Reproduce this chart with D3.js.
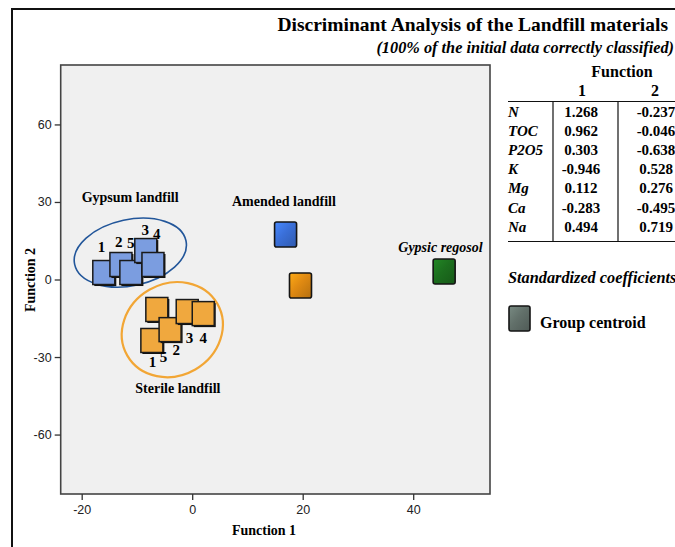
<!DOCTYPE html>
<html><head><meta charset="utf-8">
<script src="https://cdn.jsdelivr.net/npm/d3@7"></script>
<style>body{margin:0;background:#fff}svg{display:block}</style>
</head><body>
<svg id="c" width="675" height="547"></svg>
<script>
// ---- data ----
const xTicks = [-20, 0, 20, 40];
const yTicks = [60, 30, 0, -30, -60];

const gypsumX = [-16.0, -12.9, -11.1, -8.4, -7.1];
const gypsumY = [2.7, 5.8, 2.7, 11.2, 5.8];
const gypsumLabels = ["1", "2", "5", "3", "4"];
const gypsumLabelX = [-16.4, -13.3, -11.1, -8.5, -6.4];
const gypsumLabelY = [12.8, 14.7, 14.3, 19.4, 17.8];

const sterileX = [-7.3, -6.4, -4.0, -0.9, 2.0];
const sterileY = [-23.6, -11.6, -19.4, -12.4, -13.2];
const sterileLabels = ["1", "5", "2", "3", "4"];
const sterileLabelX = [-7.2, -5.2, -2.9, -0.5, 2.0];
const sterileLabelY = [-31.7, -29.8, -27.1, -22.5, -22.5];

const centroidNames = ["Amended gypsum", "Amended sterile", "Gypsic regosol"];
const centroidX = [16.9, 19.6, 45.6];
const centroidY = [17.4, -2.3, 3.1];

const groupNames = ["Gypsum landfill", "Amended landfill", "Gypsic regosol", "Sterile landfill"];
const groupLabelX = [-20.0, 7.2, 37.3, -10.3];
const groupLabelY = [29.8, 28.6, 10.5, -44.1];

const ellipseCX = [-11.2, -3.6];
const ellipseCY = [10.4, -19.4];
const ellipseRX = [10.3, 9.4];
const ellipseRY = [12.8, 17.8];

const variables = ["N", "TOC", "P2O5", "K", "Mg", "Ca", "Na"];
const coef1 = ["1.268", "0.962", "0.303", "-0.946", "0.112", "-0.283", "0.494"];
const coef2 = ["-0.237", "-0.046", "-0.638", "0.528", "0.276", "-0.495", "0.719"];

// ---- setup ----
const svg = d3.select("#c");
const serif = "'Liberation Serif','Times New Roman',serif";
const sans = "'Liberation Sans',Arial,sans-serif";
const L = 60.7, R = 490, T = 65, B = 494;
const x = d3.scaleLinear().domain([-23.8, 53.9]).range([L, R]);
const y = d3.scaleLinear().domain([-83, 83]).range([B, T]);

const defs = svg.append("defs");
function grad(id, c) {
  const g = defs.append("linearGradient").attr("id", id)
    .attr("x1", "0").attr("y1", "0").attr("x2", "1").attr("y2", "1");
  g.append("stop").attr("offset", "0%").attr("stop-color", d3.color(c).brighter(0.6));
  g.append("stop").attr("offset", "45%").attr("stop-color", c);
  g.append("stop").attr("offset", "100%").attr("stop-color", d3.color(c).darker(0.6));
}
grad("gBlue", "#3a6fd8");
grad("gOrange", "#e08a12");
grad("gGreen", "#1c6e1e");
grad("gGray", "#62706a");
const centroidFill = ["url(#gBlue)", "url(#gOrange)", "url(#gGreen)"];

// outer frame
svg.append("path").attr("d", `M12,547 L12,9 L675,9`)
  .attr("fill", "none").attr("stroke", "#111").attr("stroke-width", 2);

// title
svg.append("text").attr("x", 668).attr("y", 31).attr("text-anchor", "end")
  .attr("font-family", serif).attr("font-weight", "bold").attr("font-size", 19.5)
  .text("Discriminant Analysis of the Landfill materials");
svg.append("text").attr("x", 674).attr("y", 53).attr("text-anchor", "end")
  .attr("font-family", serif).attr("font-weight", "bold").attr("font-style", "italic").attr("font-size", 16.3)
  .text("(100% of the initial data correctly classified)");

// plot area
svg.append("rect").attr("x", L).attr("y", T).attr("width", R - L).attr("height", B - T)
  .attr("fill", "#f0f0f0").attr("stroke", "#444").attr("stroke-width", 1.6);

// axes
const xAxis = svg.append("g").attr("transform", `translate(0,${B})`)
  .call(d3.axisBottom(x).tickValues(xTicks).tickFormat(d => String(d)).tickSize(6).tickPadding(5).tickSizeOuter(0));
const yAxis = svg.append("g").attr("transform", `translate(${L},0)`)
  .call(d3.axisLeft(y).tickValues(yTicks).tickFormat(d => String(d)).tickSize(6).tickPadding(3).tickSizeOuter(0));
[xAxis, yAxis].forEach(a => {
  a.select(".domain").remove();
  a.selectAll("line").attr("stroke", "#333").attr("stroke-width", 1.3);
  a.selectAll("text").attr("font-family", sans).attr("font-size", 12.5).attr("fill", "#222");
});

svg.append("text").attr("x", 264).attr("y", 535).attr("text-anchor", "middle")
  .attr("font-family", serif).attr("font-weight", "bold").attr("font-size", 14).text("Function 1");
svg.append("text").attr("transform", "translate(35,280) rotate(-90)").attr("text-anchor", "middle")
  .attr("font-family", serif).attr("font-weight", "bold").attr("font-size", 14).text("Function 2");

// ellipses
const ellColors = ["#22569a", "#f2a635"];
ellipseCX.forEach((cx, i) => {
  const px = x(cx), py = y(ellipseCY[i]);
  const rx = x(cx + ellipseRX[i]) - px, ry = py - y(ellipseCY[i] + ellipseRY[i]);
  svg.append("ellipse").attr("cx", px).attr("cy", py).attr("rx", rx).attr("ry", ry)
    .attr("transform", `rotate(${i === 0 ? -12 : -30},${px},${py})`)
    .attr("fill", "none").attr("stroke", ellColors[i]).attr("stroke-width", i === 0 ? 1.6 : 2.2);
});

const SW = 22, SH = 24;
function memberSquares(xs, ys, fill) {
  const g = svg.append("g");
  xs.forEach((v, i) => {
    const px = x(v), py = y(ys[i]);
    g.append("rect").attr("x", px - SW / 2 + 1.5).attr("y", py - SH / 2 + 1.5)
      .attr("width", SW).attr("height", SH).attr("fill", "#111");
    g.append("rect").attr("x", px - SW / 2).attr("y", py - SH / 2)
      .attr("width", SW).attr("height", SH).attr("fill", fill)
      .attr("stroke", "#1a1a1a").attr("stroke-width", 1.5);
  });
}
memberSquares(gypsumX, gypsumY, "#7b9de0");
memberSquares(sterileX, sterileY, "#f0a83e");

// centroids
centroidX.forEach((v, i) => {
  const px = x(v), py = y(centroidY[i]);
  svg.append("rect").attr("x", px - 11).attr("y", py - 12.5).attr("width", 22).attr("height", 25)
    .attr("rx", 2).attr("fill", centroidFill[i]).attr("stroke", "#151515").attr("stroke-width", 1.6);
});

// point labels
function pointLabels(lx, ly, labels) {
  labels.forEach((t, i) => {
    svg.append("text").attr("x", x(lx[i])).attr("y", y(ly[i])).attr("dy", "0.35em")
      .attr("text-anchor", "middle").attr("font-family", serif).attr("font-weight", "bold")
      .attr("font-size", 15).text(t);
  });
}
pointLabels(gypsumLabelX, gypsumLabelY, gypsumLabels);
pointLabels(sterileLabelX, sterileLabelY, sterileLabels);

// group labels
groupNames.forEach((t, i) => {
  svg.append("text").attr("x", x(groupLabelX[i])).attr("y", y(groupLabelY[i]))
    .attr("font-family", serif).attr("font-weight", "bold").attr("font-size", 14)
    .attr("font-style", i === 2 ? "italic" : "normal").text(t);
});

// coefficient table
const tg = svg.append("g").attr("font-family", serif).attr("font-weight", "bold").attr("font-size", 15);
tg.append("text").attr("x", 622).attr("y", 77).attr("text-anchor", "middle").attr("font-size", 16).text("Function");
tg.append("text").attr("x", 582).attr("y", 96).attr("text-anchor", "middle").attr("font-size", 16).text("1");
tg.append("text").attr("x", 655).attr("y", 96).attr("text-anchor", "middle").attr("font-size", 16).text("2");
tg.append("line").attr("x1", 508).attr("x2", 675).attr("y1", 101.5).attr("y2", 101.5).attr("stroke", "#111").attr("stroke-width", 1.2);
tg.append("line").attr("x1", 508).attr("x2", 675).attr("y1", 241.5).attr("y2", 241.5).attr("stroke", "#111").attr("stroke-width", 1.2);
[553, 618].forEach(vx => tg.append("line").attr("x1", vx).attr("x2", vx).attr("y1", 101.5).attr("y2", 241.5)
  .attr("stroke", "#111").attr("stroke-width", 1.2));
variables.forEach((v, i) => {
  const by = 117 + i * 19.1;
  tg.append("text").attr("x", 508).attr("y", by).attr("font-style", "italic").text(v);
  tg.append("text").attr("x", 581).attr("y", by).attr("text-anchor", "middle").text(coef1[i]);
  tg.append("text").attr("x", 656).attr("y", by).attr("text-anchor", "middle").text(coef2[i]);
});
tg.append("text").attr("x", 508).attr("y", 283).attr("font-style", "italic").attr("font-size", 16.3)
  .text("Standardized coefficients");

// legend
svg.append("rect").attr("x", 509).attr("y", 306).attr("width", 21).attr("height", 25).attr("rx", 2)
  .attr("fill", "url(#gGray)").attr("stroke", "#151515").attr("stroke-width", 1.6);
svg.append("text").attr("x", 540).attr("y", 328).attr("font-family", serif).attr("font-weight", "bold")
  .attr("font-size", 16).text("Group centroid");
</script>
</body></html>
